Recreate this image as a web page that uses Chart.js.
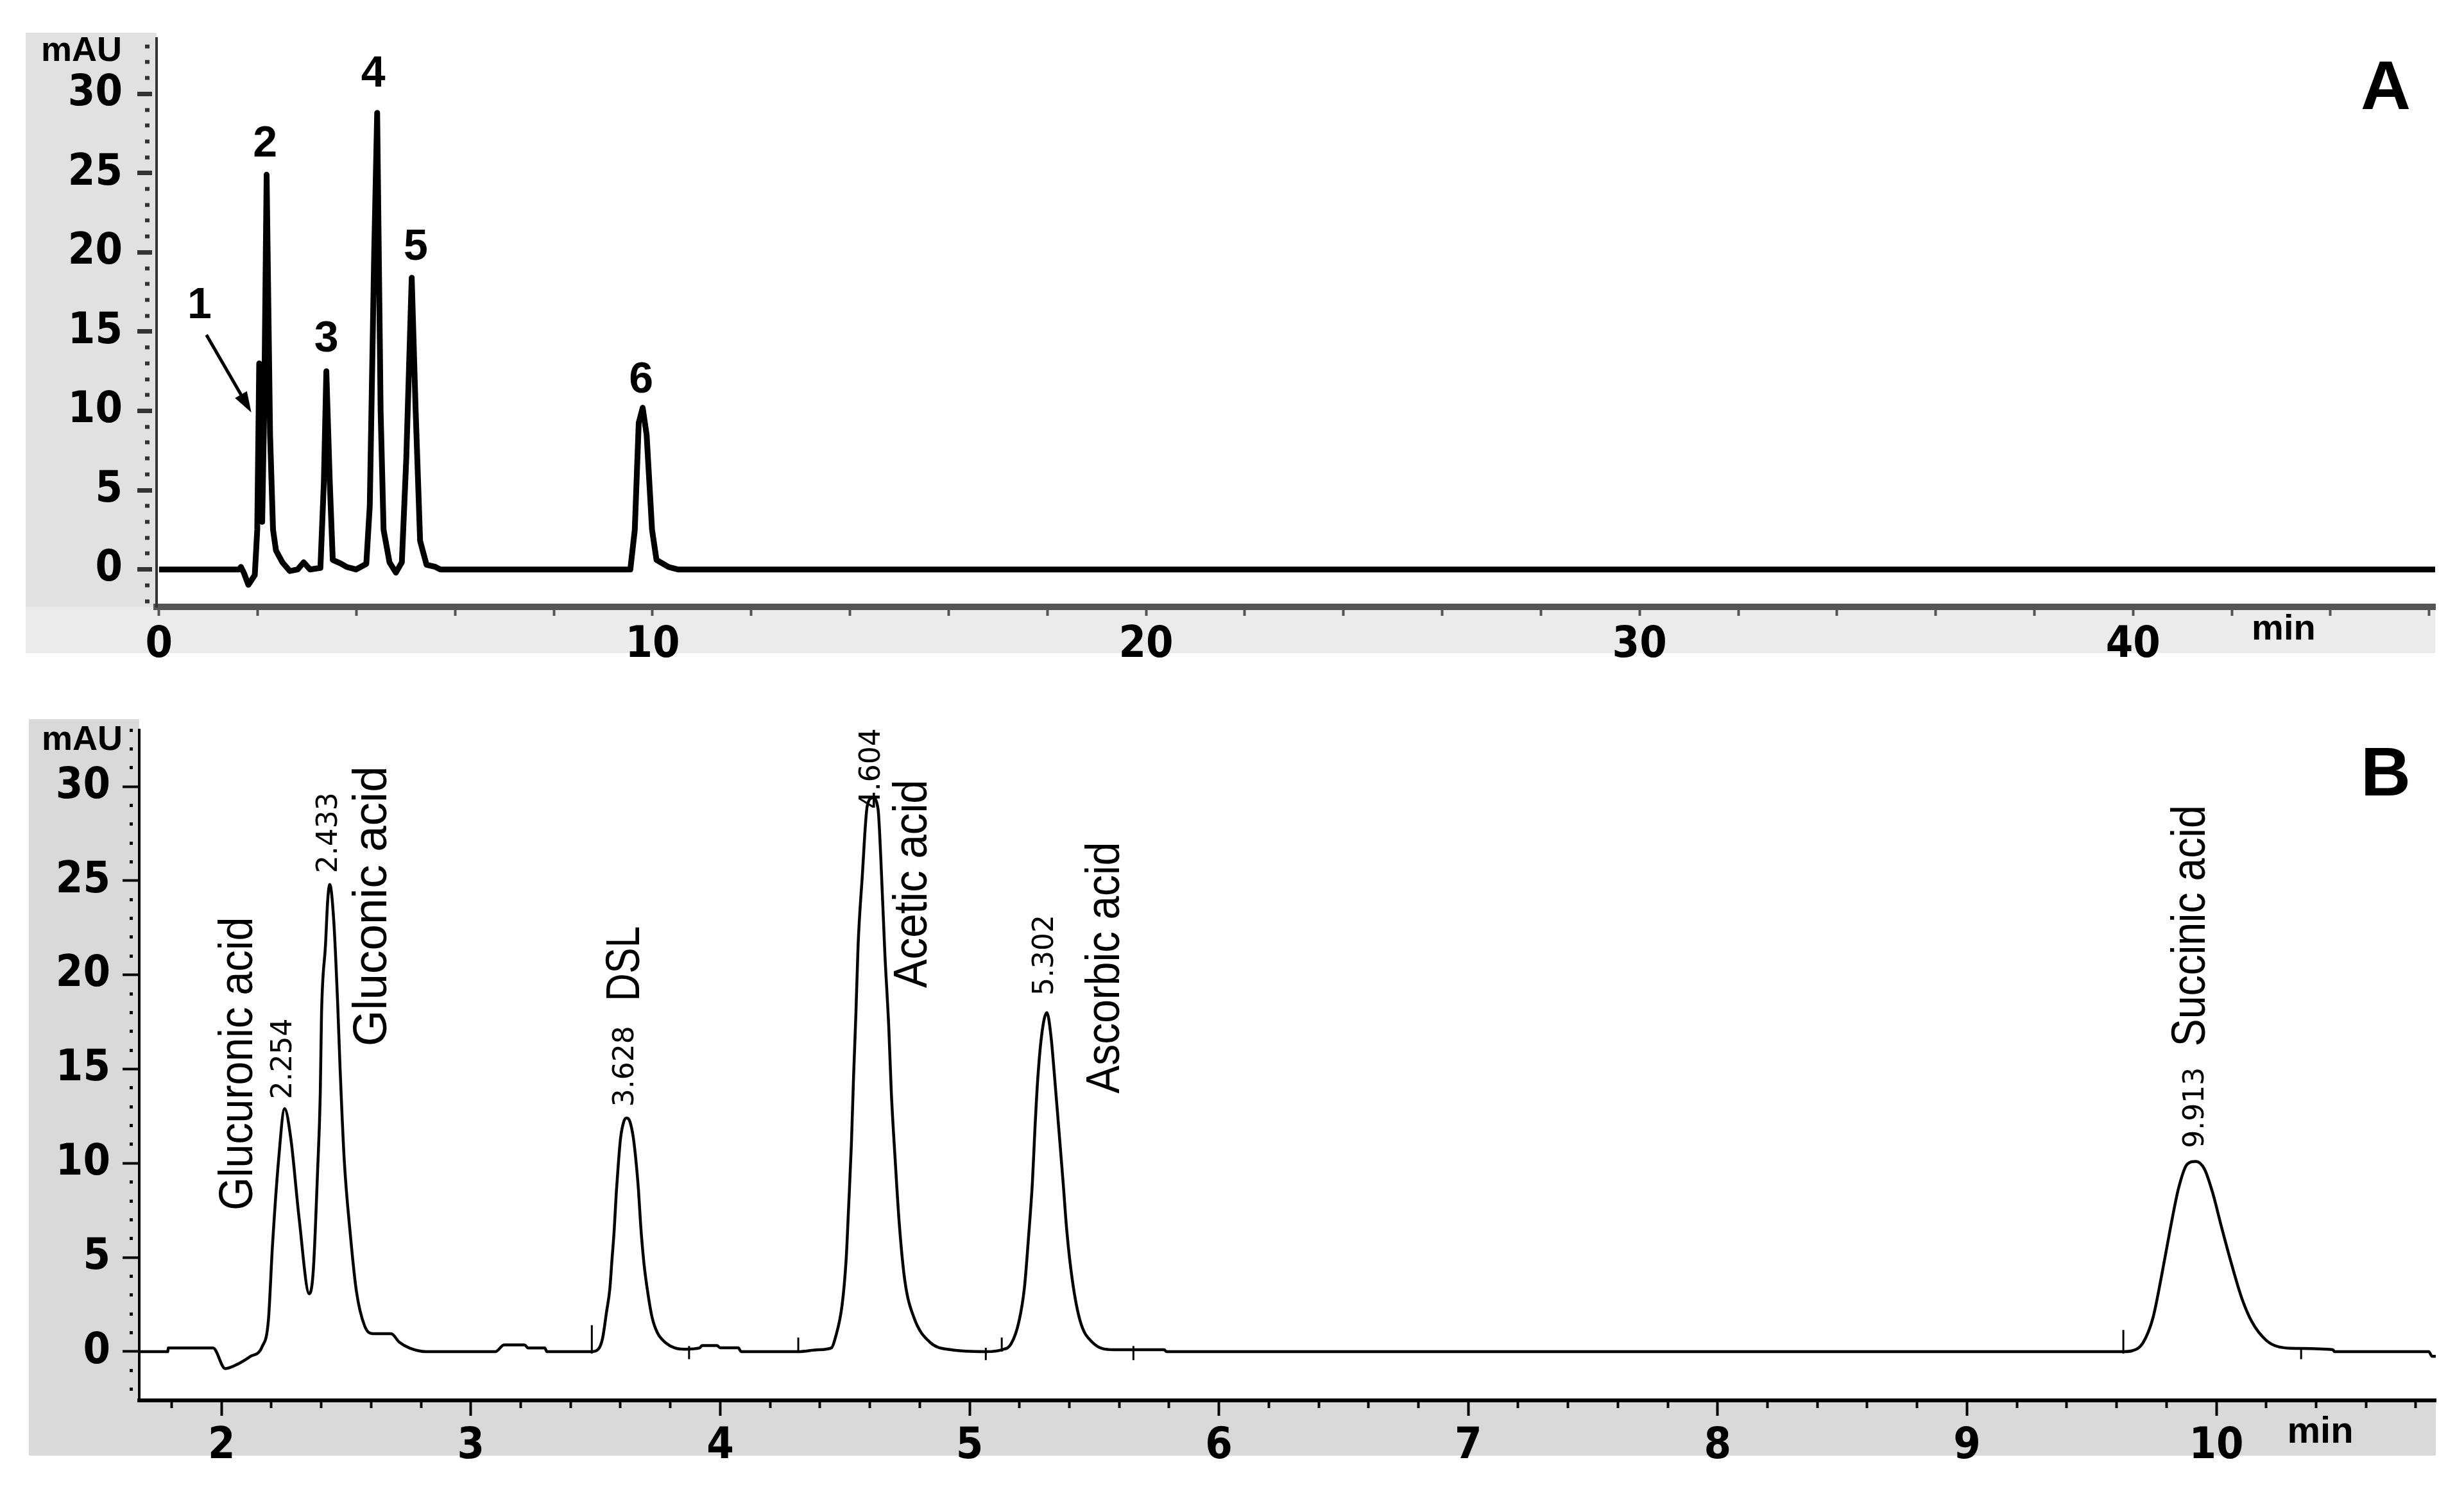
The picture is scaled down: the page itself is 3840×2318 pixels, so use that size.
<!DOCTYPE html>
<html>
<head>
<meta charset="utf-8">
<script src="https://cdn.jsdelivr.net/npm/chart.js@4/dist/chart.umd.min.js"></script>
<style>
  html, body { margin: 0; padding: 0; background: #fff; }
  #wrap { position: relative; width: 3840px; height: 2318px; overflow: hidden; }
  canvas { position: absolute; left: 0; }
  #chartA { top: 0; }
  #chartB { top: 1050px; }
</style>
</head>
<body>
<div id="wrap">
  <canvas id="chartA" width="3840" height="1050"></canvas>
  <canvas id="chartB" width="3840" height="1268"></canvas>
</div>
<script>
// Panel A - whole run (min / mAU)
const timeA = [0, 1.62, 1.66, 1.72, 1.81, 1.94, 1.99, 2.03, 2.09, 2.13, 2.18, 2.25, 2.31, 2.37, 2.50, 2.65, 2.81, 2.93, 3.06,
  3.27, 3.34, 3.39, 3.46, 3.52, 3.68, 3.80, 3.99, 4.20, 4.27, 4.36, 4.42, 4.49, 4.55, 4.67, 4.80, 4.92, 5.01, 5.12, 5.20,
  5.29, 5.42, 5.60, 5.70, 9.55, 9.64, 9.72, 9.80, 9.88, 9.99, 10.08, 10.32, 10.51, 46.12];
const signalA = [0, 0, 0.16, -0.22, -0.97, -0.36, 2.5, 13.0, 3.0, 10.0, 24.9, 8.5, 2.5, 1.2, 0.45, -0.1, 0, 0.45, 0,
  0.1, 5.5, 12.5, 5.5, 0.6, 0.38, 0.16, 0, 0.35, 4.0, 20.0, 28.8, 10.0, 2.5, 0.45, -0.2, 0.45, 7.0, 18.4, 10.0,
  1.8, 0.3, 0.16, 0, 0, 2.5, 9.25, 10.2, 8.5, 2.5, 0.6, 0.16, 0, 0];
const peakNumbersA = ['1', '2', '3', '4', '5', '6'];

// Panel B - expanded 1.7-10.9 min
const timeB = [1.67, 1.785, 1.786, 1.966, 2.015, 2.064, 2.114, 2.163, 2.188, 2.204, 2.229, 2.253, 2.278, 2.311, 2.352,
  2.368, 2.385, 2.396, 2.401, 2.417, 2.426, 2.434, 2.450, 2.466, 2.475, 2.492, 2.516, 2.541, 2.574, 2.606, 2.680,
  2.713, 2.754, 2.820, 3.099, 3.133, 3.215, 3.230, 3.296, 3.305, 3.485, 3.511, 3.528, 3.544, 3.557, 3.566, 3.575,
  3.583, 3.591, 3.600, 3.613, 3.625, 3.638, 3.651, 3.660, 3.672, 3.681, 3.694, 3.711, 3.727, 3.748, 3.783, 3.817,
  3.858, 3.918, 3.927, 3.987, 4.000, 4.072, 4.084, 4.301, 4.313, 4.393, 4.446, 4.462, 4.489, 4.505, 4.515, 4.526,
  4.535, 4.544, 4.553, 4.569, 4.590, 4.612, 4.633, 4.644, 4.660, 4.676, 4.686, 4.702, 4.718, 4.740, 4.777, 4.841,
  4.926, 5.065, 5.129, 5.166, 5.198, 5.220, 5.236, 5.252, 5.262, 5.273, 5.289, 5.310, 5.326, 5.342, 5.358, 5.375,
  5.390, 5.412, 5.444, 5.492, 5.577, 5.780, 5.790, 9.627, 9.664, 9.705, 9.746, 9.780, 9.815, 9.849, 9.883, 9.918,
  9.952, 9.986, 10.021, 10.062, 10.103, 10.144, 10.200, 10.254, 10.323, 10.467, 10.474, 10.852, 10.865, 10.88];
const signalB = [0, 0, 0.19, 0.19, -0.9, -0.67, -0.27, 0.27, 1.67, 5.56, 10.2, 12.9, 11.3, 7.1, 3.07,
  4.3, 9.5, 13.7, 17.9, 21.6, 24.0, 24.8, 22.9, 18.4, 15.2, 10.2, 6.3, 3.2, 1.36, 0.95, 0.95,
  0.5, 0.19, 0, 0, 0.36, 0.36, 0.19, 0.19, 0, 0, 0.13, 0.7, 2.1, 3.3, 4.9, 6.5,
  8.4, 9.9, 11.3, 12.2, 12.4, 12.2, 11.4, 10.4, 8.6, 6.7, 4.7, 3.0, 1.8, 1.0, 0.45, 0.2,
  0.13, 0.2, 0.32, 0.32, 0.2, 0.2, 0, 0, 0, 0.1, 0.2, 0.75, 2.5, 4.9, 7.7, 11.0,
  14.7, 17.9, 21.6, 25.1, 29.0, 29.4, 28.8, 26.2, 21.2, 17.2, 13.8, 10.1, 6.8, 3.8, 1.8, 0.5,
  0.1, 0, 0.1, 0.4, 1.6, 3.4, 6.0, 9.0, 11.8, 14.4, 16.8, 18.0, 16.8, 14.4, 11.8, 9.0,
  6.4, 3.8, 1.6, 0.5, 0.1, 0.1, 0, 0, 0.05, 0.45, 1.8, 4.0, 6.5, 8.7, 9.95, 10.1,
  9.7, 8.4, 6.6, 4.6, 2.8, 1.55, 0.6, 0.24, 0.17, 0.1, 0, 0, -0.25, -0.25];

// integration marks drawn by the data system on trace B
const markTimeB = [3.485, 3.875, 4.313, 5.065, 5.129, 5.657, 9.627, 10.34];
const markLowB = [-0.1, -0.4, 0, -0.45, 0, -0.45, -0.1, -0.4];
const markHighB = [1.4, 0.3, 0.75, 0.2, 0.75, 0.3, 1.15, 0.2];

const compoundsB = ['Glucuronic acid', 'Gluconic acid', 'DSL', 'Acetic acid', 'Ascorbic acid', 'Succinic acid'];
const retentionB = ['2.254', '2.433', '3.628', '4.604', '5.302', '9.913'];

const tickFont = { family: '"Liberation Sans Narrow", "DejaVu Sans Condensed", "Liberation Sans", Arial, sans-serif', size: 68, weight: 'bold' };
const boldFont = 'bold 68px "Liberation Sans", Arial, sans-serif';
const nameFont = '74px "Liberation Sans", Arial, sans-serif';
const rtFont = '44px "DejaVu Sans", sans-serif';

function isWhole(v, step) {
  const q = v / step;
  return Math.abs(q - Math.round(q)) < 1e-6;
}

function makeDecor(cfg) {
  return {
    id: 'decor',
    beforeDraw(chart) {
      const ctx = chart.ctx, area = chart.chartArea;
      ctx.save();
      ctx.fillStyle = cfg.columnColor;
      ctx.fillRect(cfg.left, cfg.top, area.left - cfg.left, cfg.bottom - cfg.top);
      ctx.fillStyle = cfg.bandColor;
      ctx.fillRect(cfg.left, area.bottom, area.right - cfg.left, cfg.bottom - area.bottom);
      ctx.restore();
    },
    afterDraw(chart) {
      const ctx = chart.ctx, xs = chart.scales.x, ys = chart.scales.y;
      ctx.save();
      ctx.fillStyle = '#000';
      ctx.strokeStyle = '#000';
      cfg.texts.forEach(t => {
        const px = t.px !== undefined ? t.px : xs.getPixelForValue(t.x);
        const py = t.py !== undefined ? t.py : ys.getPixelForValue(t.y);
        ctx.save();
        ctx.translate(px, py);
        if (t.vertical) ctx.rotate(-Math.PI / 2);
        ctx.font = t.font;
        ctx.textAlign = t.align || 'center';
        ctx.textBaseline = 'middle';
        if (t.fit) ctx.fillText(t.text, 0, 0, t.fit);
        else ctx.fillText(t.text, 0, 0);
        ctx.restore();
      });
      (cfg.arrows || []).forEach(a => {
        const x1 = xs.getPixelForValue(a.from[0]), y1 = ys.getPixelForValue(a.from[1]);
        const x2 = xs.getPixelForValue(a.to[0]), y2 = ys.getPixelForValue(a.to[1]);
        const ang = Math.atan2(y2 - y1, x2 - x1);
        const head = 34;
        ctx.lineWidth = 5;
        ctx.beginPath();
        ctx.moveTo(x1, y1);
        ctx.lineTo(x2 - Math.cos(ang) * head * 0.8, y2 - Math.sin(ang) * head * 0.8);
        ctx.stroke();
        ctx.beginPath();
        ctx.moveTo(x2, y2);
        ctx.lineTo(x2 - head * Math.cos(ang - 0.32), y2 - head * Math.sin(ang - 0.32));
        ctx.lineTo(x2 - head * Math.cos(ang + 0.32), y2 - head * Math.sin(ang + 0.32));
        ctx.closePath();
        ctx.fill();
      });
      ctx.restore();
    }
  };
}

// ---------- panel A ----------
const numberSpotsA = [[0.82, 16.6], [2.15, 26.8], [3.39, 14.5], [4.34, 31.2], [5.20, 20.3], [9.77, 11.9]];
const textsA = peakNumbersA.map((n, i) => ({ text: n, x: numberSpotsA[i][0], y: numberSpotsA[i][1], font: boldFont }));
textsA.push({ text: 'A', px: 3718, py: 140, font: 'bold 108px "Liberation Sans", Arial, sans-serif' });
textsA.push({ text: 'mAU', px: 190, py: 80, align: 'right', font: 'bold 54px "Liberation Sans", Arial, sans-serif' });
textsA.push({ text: 'min', x: 43.05, py: 982, font: 'bold 56px "Liberation Sans", Arial, sans-serif' });

new Chart(document.getElementById('chartA'), {
  type: 'scatter',
  data: {
    datasets: [{
      data: timeA.map((t, i) => ({ x: t, y: signalA[i] })),
      showLine: true,
      borderColor: '#000',
      borderWidth: 9,
      borderJoinStyle: 'round',
      pointRadius: 0,
      tension: 0
    }]
  },
  options: {
    responsive: false,
    animation: false,
    events: [],
    layout: { padding: { left: 40, right: 45, top: 53, bottom: 4 } },
    plugins: { legend: { display: false }, tooltip: { enabled: false } },
    scales: {
      x: {
        type: 'linear', min: -0.05, max: 46.12,
        afterFit: s => { s.height = 100; },
        border: { color: '#555', width: 10 },
        grid: { drawOnChartArea: false, tickLength: 14, tickColor: '#555', tickWidth: 4 },
        ticks: {
          stepSize: 2, maxTicksLimit: 1000, autoSkip: false, includeBounds: false, maxRotation: 0, padding: 6,
          color: '#000', font: tickFont,
          callback: v => isWhole(v, 10) ? String(Math.round(v)) : ''
        }
      },
      y: {
        type: 'linear', min: -2.36, max: 33.5,
        afterFit: s => { s.width = 204; },
        border: { color: '#333', width: 4 },
        grid: {
          drawOnChartArea: false, tickLength: 34, tickColor: '#333',
          tickWidth: c => (c.tick && isWhole(c.tick.value, 5)) ? 7 : 6,
          tickBorderDash: c => (c.tick && isWhole(c.tick.value, 5)) ? [0, 4, 23, 100] : [0, 16, 7, 100]
        },
        ticks: {
          stepSize: 1, maxTicksLimit: 1000, autoSkip: false, includeBounds: false, padding: 19,
          color: '#000', font: tickFont,
          callback: v => isWhole(v, 5) ? String(Math.round(v)) : ''
        }
      }
    }
  },
  plugins: [makeDecor({
    left: 40, top: 51, bottom: 1018, columnColor: '#e1e1e1', bandColor: '#ebebeb',
    texts: textsA,
    arrows: [{ from: [0.96, 14.8], to: [1.87, 9.9] }]
  })]
});

// ---------- panel B ----------
const rtSpotsB = [[2.25, 13.4], [2.434, 25.4], [3.622, 13.0], [4.61, 28.8], [5.305, 18.9], [9.92, 10.8]];
const nameSpotsB = [[2.07, 7.5, 457], [2.607, 16.2, 437], [3.622, 18.6, 117], [4.775, 19.3, 325], [5.547, 13.7, 392], [9.902, 16.2, 376]];
const textsB = [];
retentionB.forEach((r, i) => textsB.push({ text: r, x: rtSpotsB[i][0], y: rtSpotsB[i][1], vertical: true, align: 'left', font: rtFont }));
compoundsB.forEach((n, i) => textsB.push({ text: n, x: nameSpotsB[i][0], y: nameSpotsB[i][1], vertical: true, align: 'left', font: nameFont, fit: nameSpotsB[i][2] }));
textsB.push({ text: 'B', px: 3718, py: 160, font: 'bold 108px "Liberation Sans", Arial, sans-serif' });
textsB.push({ text: 'mAU', px: 191, py: 104, align: 'right', font: 'bold 54px "Liberation Sans", Arial, sans-serif' });
textsB.push({ text: 'min', x: 10.417, py: 1183, font: 'bold 58px "Liberation Sans", Arial, sans-serif' });

const marksB = [];
markTimeB.forEach((t, i) => {
  marksB.push({ x: t, y: markLowB[i] }, { x: t, y: markHighB[i] }, { x: t, y: null });
});

new Chart(document.getElementById('chartB'), {
  type: 'scatter',
  data: {
    datasets: [{
      data: timeB.map((t, i) => ({ x: t, y: signalB[i] })),
      showLine: true,
      borderColor: '#000',
      borderWidth: 4.5,
      borderJoinStyle: 'round',
      pointRadius: 0,
      cubicInterpolationMode: 'monotone'
    }, {
      data: marksB,
      showLine: true,
      spanGaps: false,
      borderColor: '#000',
      borderWidth: 3,
      pointRadius: 0,
      tension: 0
    }]
  },
  options: {
    responsive: false,
    animation: false,
    events: [],
    layout: { padding: { left: 45, right: 44, top: 88, bottom: 5 } },
    plugins: { legend: { display: false }, tooltip: { enabled: false } },
    scales: {
      x: {
        type: 'linear', min: 1.67, max: 10.88,
        afterFit: s => { s.height = 130; },
        border: { color: '#000', width: 6 },
        grid: {
          drawOnChartArea: false, tickLength: 24, tickColor: '#000', tickWidth: 4,
          tickBorderDash: c => (c.tick && isWhole(c.tick.value, 1)) ? [] : [9, 100]
        },
        ticks: {
          stepSize: 0.2, maxTicksLimit: 1000, autoSkip: false, includeBounds: false, maxRotation: 0, padding: 8,
          color: '#000', font: tickFont,
          callback: v => isWhole(v, 1) ? String(Math.round(v)) : ''
        }
      },
      y: {
        type: 'linear', min: -2.59, max: 33.0,
        afterFit: s => { s.width = 172; },
        border: { color: '#000', width: 4 },
        grid: {
          drawOnChartArea: false, tickLength: 26, tickColor: '#000',
          tickWidth: c => (c.tick && isWhole(c.tick.value, 5)) ? 4 : 5,
          tickBorderDash: c => (c.tick && isWhole(c.tick.value, 5)) ? [] : [0, 11, 5, 100]
        },
        ticks: {
          stepSize: 1, maxTicksLimit: 1000, autoSkip: false, includeBounds: false, padding: 19,
          color: '#000', font: tickFont,
          callback: v => isWhole(v, 5) ? String(Math.round(v)) : ''
        }
      }
    }
  },
  plugins: [makeDecor({
    left: 45, top: 71, bottom: 1219, columnColor: '#d9d9d9', bandColor: '#d9d9d9',
    texts: textsB
  })]
});
</script>
</body>
</html>
